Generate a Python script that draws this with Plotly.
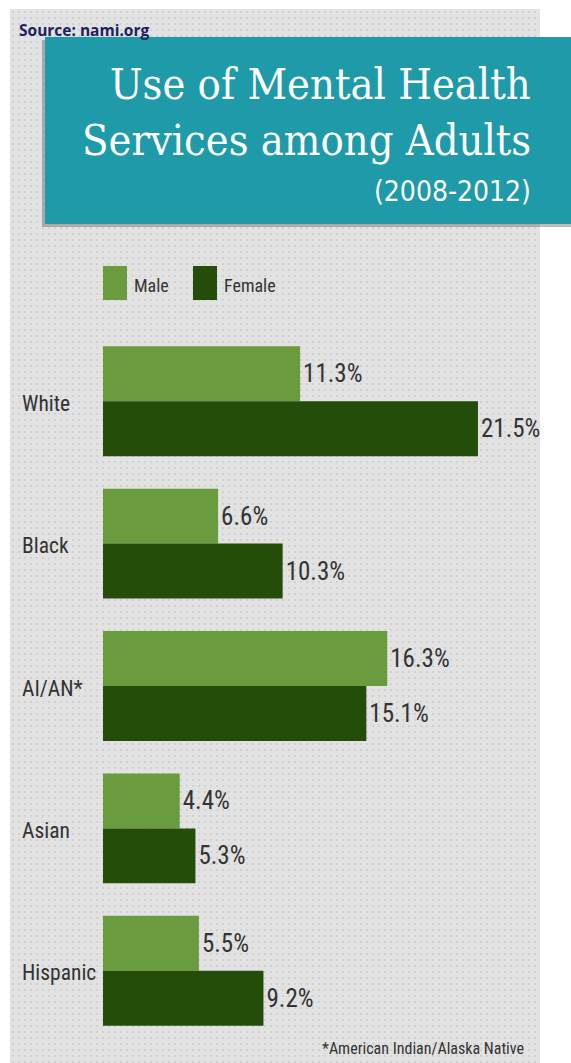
import base64
import plotly.graph_objects as go

categories = ["White", "Black", "AI/AN*", "Asian", "Hispanic"]
male = [11.3, 6.6, 16.3, 4.4, 5.5]
female = [21.5, 10.3, 15.1, 5.3, 9.2]
series_names = ["Male", "Female"]

W, H = 571, 1063
ML, MR, MT, MB = 103, 32, 330, 21
PW, PH = W - ML - MR, H - MT - MB


def px(x):
    return (x - ML) / PW


def py(y):
    return (H - MB - y) / PH


MALE_C = "#6a9c3f"
FEMALE_C = "#244d0a"
TEXT_C = "#333333"
NARROW = "Liberation Sans Narrow, Arial Narrow, Roboto Condensed, sans-serif"
SERIF = "DejaVu Serif Condensed, Liberation Serif, serif"

svg = (
    '<svg xmlns="http://www.w3.org/2000/svg" width="530" height="1054">'
    '<defs><pattern id="d" width="6" height="6" patternUnits="userSpaceOnUse">'
    '<rect width="6" height="6" fill="#e2e2e2"/>'
    '<circle cx="3" cy="3" r="1" fill="#cccccc"/></pattern></defs>'
    '<rect width="530" height="1054" fill="url(#d)"/></svg>'
)
bg_src = "data:image/svg+xml;base64," + base64.b64encode(svg.encode()).decode()

fig = go.Figure()
for name, vals, col in [(series_names[0], male, MALE_C), (series_names[1], female, FEMALE_C)]:
    fig.add_trace(go.Bar(
        name=name, y=categories, x=vals, orientation="h",
        marker=dict(color=col, line=dict(width=0)),
        text=[f"{v:.1f}%" for v in vals], textposition="outside",
        textfont=dict(family=NARROW, size=25, color=TEXT_C),
        cliponaxis=False, showlegend=False,
    ))

shapes = [
    # title box shadow and box
    dict(type="rect", xref="paper", yref="paper", x0=px(42), x1=px(575), y0=py(227), y1=py(40),
         fillcolor="rgba(90,90,90,0.4)", line=dict(width=0), layer="above"),
    dict(type="rect", xref="paper", yref="paper", x0=px(45), x1=px(575), y0=py(224), y1=py(37),
         fillcolor="#1e9aa8", line=dict(width=0), layer="above"),
    # legend swatches
    dict(type="rect", xref="paper", yref="paper", x0=px(103), x1=px(127), y0=py(300), y1=py(266),
         fillcolor=MALE_C, line=dict(width=0)),
    dict(type="rect", xref="paper", yref="paper", x0=px(193), x1=px(217), y0=py(300), y1=py(266),
         fillcolor=FEMALE_C, line=dict(width=0)),
]

annotations = [
    dict(text="Source: nami.org", x=px(17), y=py(30), xanchor="left", yanchor="middle",
         font=dict(family="Open Sans, sans-serif", size=15.5, color="#1f2060", weight="bold")),
    dict(text="Use of Mental Health", x=px(533), y=py(84), xanchor="right", yanchor="middle",
         font=dict(family=SERIF, size=43, color="white")),
    dict(text="Services among Adults", x=px(533), y=py(140), xanchor="right", yanchor="middle",
         font=dict(family=SERIF, size=43, color="white")),
    dict(text="(2008-2012)", x=px(533), y=py(192), xanchor="right", yanchor="middle",
         font=dict(family="DejaVu Sans Condensed, DejaVu Sans, sans-serif", size=28, color="white")),
    dict(text=series_names[0], x=px(132), y=py(285), xanchor="left", yanchor="middle",
         font=dict(family=NARROW, size=18, color=TEXT_C)),
    dict(text=series_names[1], x=px(222), y=py(285), xanchor="left", yanchor="middle",
         font=dict(family=NARROW, size=18, color=TEXT_C)),
    dict(text="*American Indian/Alaska Native", x=px(526), y=py(1048), xanchor="right", yanchor="middle",
         font=dict(family=NARROW, size=16, color=TEXT_C)),
]
for c in categories:
    annotations.append(dict(text=c, x=px(20), xref="paper", y=c, yref="y", xanchor="left",
                            yanchor="middle", yshift=-2,
                            font=dict(family=NARROW, size=21.5, color=TEXT_C)))
for a in annotations:
    a.setdefault("xref", "paper")
    a.setdefault("yref", "paper")
    a["showarrow"] = False

fig.update_layout(
    width=W, height=H, margin=dict(l=ML, r=MR, t=MT, b=MB),
    paper_bgcolor="white", plot_bgcolor="rgba(0,0,0,0)",
    barmode="group", bargap=0.228, bargroupgap=0,
    xaxis=dict(range=[0, 25], visible=False, fixedrange=True),
    yaxis=dict(autorange="reversed", showticklabels=False, showgrid=False, zeroline=False,
               showline=False, ticks="", fixedrange=True),
    shapes=shapes, annotations=annotations,
    images=[dict(source=bg_src, xref="paper", yref="paper", x=px(10), y=py(9),
                 sizex=530 / PW, sizey=1054 / PH, sizing="stretch", xanchor="left",
                 yanchor="top", layer="below")],
    showlegend=False,
)
fig.write_html("out.html")
